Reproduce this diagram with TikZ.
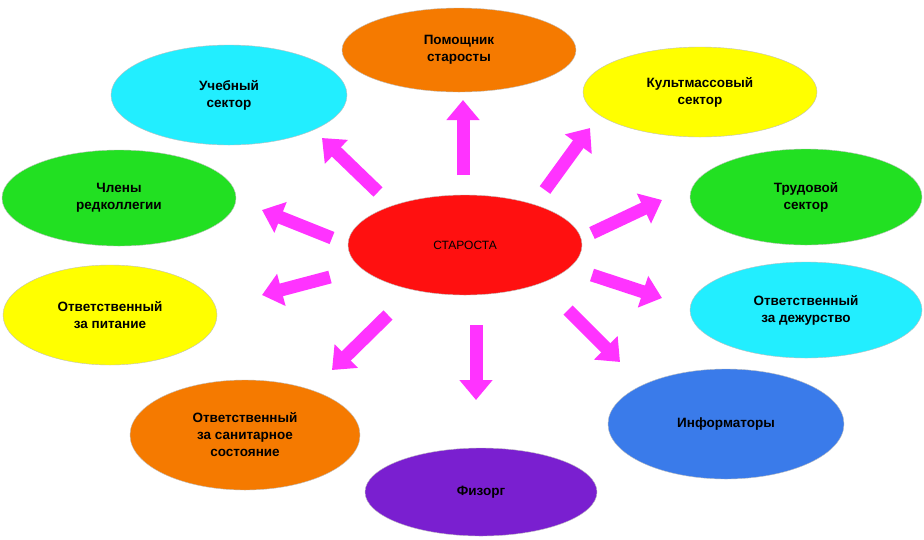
\documentclass[tikz,border=0pt]{standalone}
\usepackage{fontspec}
\setmainfont{Liberation Sans}
\usetikzlibrary{shapes.geometric,arrows.meta}
\definecolor{corange}{HTML}{F57A00}
\definecolor{ccyan}{HTML}{22EEFF}
\definecolor{cyellow}{HTML}{FFFF00}
\definecolor{cgreen}{HTML}{22E022}
\definecolor{cred}{HTML}{FF1010}
\definecolor{cblue}{HTML}{3A7BEA}
\definecolor{cpurple}{HTML}{7A1FD0}
\definecolor{cmag}{HTML}{FF33FF}
\tikzset{
 oval/.style={ellipse,inner sep=0pt,align=center,font=\bfseries\fontsize{13.5}{17}\selectfont,draw=black!25,line width=0.4pt},
 barrow/.style={draw=cmag,line width=13pt,-{Triangle[width=32pt,length=20pt]}}
}
\begin{document}
\begin{tikzpicture}[x=1pt,y=-1pt]
\useasboundingbox[fill=white] (0,0) rectangle (924,539);
\node[oval,fill=corange,minimum width=234pt,minimum height=84pt] (pom) at (459,50) {Помощник\\старосты};
\node[oval,fill=ccyan,minimum width=236pt,minimum height=100pt] (uch) at (229,95) {Учебный\\сектор};
\node[oval,fill=cyellow,minimum width=234pt,minimum height=90pt] (kul) at (700,92) {Культмассовый\\сектор};
\node[oval,fill=cgreen,minimum width=234pt,minimum height=96pt] (red) at (119,198) {Члены\\редколлегии};
\node[oval,fill=cgreen,minimum width=232pt,minimum height=96pt] (tru) at (806,197) {Трудовой\\сектор};
\node[oval,fill=cred,minimum width=234pt,minimum height=100pt,font=\fontsize{12}{14}\selectfont] (sta) at (465,245) {СТАРОСТА};
\node[oval,fill=cyellow,minimum width=214pt,minimum height=100pt] (pit) at (110,315) {Ответственный\\за питание};
\node[oval,fill=ccyan,minimum width=232pt,minimum height=96pt] (dez) at (806,310) {Ответственный\\за дежурство};
\node[oval,fill=corange,minimum width=230pt,minimum height=110pt] (san) at (245,435) {Ответственный\\за санитарное\\состояние};
\node[oval,fill=cblue,minimum width=236pt,minimum height=110pt] (inf) at (726,424) {Информаторы};
\node[oval,fill=cpurple,minimum width=232pt,minimum height=88pt] (fiz) at (481,492) {Физорг};
\foreach \n/\a/\b/\c/\d in {1/463/175/463/100, 2/378/192/322/138, 3/545/190/590/128, 4/332/238/262/210, 5/592/233/662/200, 6/330/277/262/295, 7/592/275/662/298, 8/388/315/332/370, 9/568/310/620/362, 10/476/325/476/400}{
  \coordinate (s\n) at (\a,\b); \coordinate (e\n) at (\c,\d);
  \draw[barrow] (s\n) -- (e\n);
}
\end{tikzpicture}
\end{document}
